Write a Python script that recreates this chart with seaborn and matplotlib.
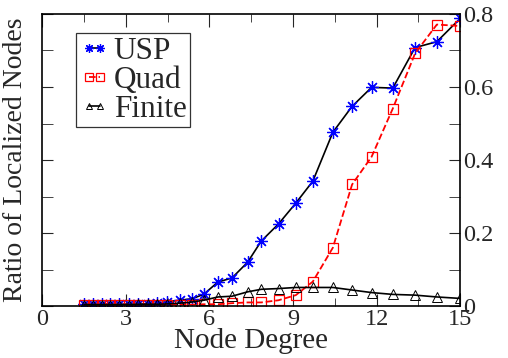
import matplotlib
matplotlib.use("Agg")
import matplotlib.pyplot as plt
from matplotlib.ticker import MultipleLocator, FuncFormatter
import pandas as pd
import seaborn as sns

# node degree (x) and ratio of localized nodes for each method
degree = [1.5, 1.84, 2.14, 2.45, 2.77, 3.12, 3.45, 3.79, 4.13, 4.49, 4.93, 5.37, 5.79,
          6.31, 6.81, 7.37, 7.86, 8.48, 9.10, 9.71, 10.43, 11.12, 11.82, 12.58, 13.38,
          14.16, 15.0]
usp = [0.005, 0.005, 0.005, 0.005, 0.005, 0.005, 0.005, 0.006, 0.008, 0.012, 0.016, 0.020, 0.032,
       0.066, 0.077, 0.120, 0.178, 0.225, 0.282, 0.342, 0.476, 0.547, 0.599, 0.597, 0.708,
       0.724, 0.788]
quad = [0.004, 0.004, 0.004, 0.004, 0.004, 0.004, 0.004, 0.004, 0.004, 0.004, 0.004, 0.004, 0.005,
        0.005, 0.008, 0.010, 0.010, 0.016, 0.030, 0.067, 0.160, 0.333, 0.409, 0.541, 0.692,
        0.771, 0.767]
finite = [0.004, 0.004, 0.004, 0.004, 0.004, 0.004, 0.005, 0.005, 0.005, 0.006, 0.008, 0.011, 0.016,
          0.025, 0.027, 0.039, 0.046, 0.048, 0.051, 0.051, 0.051, 0.044, 0.037, 0.032, 0.030,
          0.025, 0.021]

df = pd.DataFrame({"degree": degree, "USP": usp, "Quad": quad, "Finite": finite})

sns.set_style("white")
plt.rcParams["font.family"] = ["Liberation Serif", "DejaVu Serif"]

fig = plt.figure(figsize=(5.08, 3.58), dpi=100)
ax = fig.add_axes([0.083, 0.145, 0.823, 0.816])

# asterisk marker: 8 spokes
sns.lineplot(data=df, x="degree", y="USP", ax=ax, color="black", linewidth=1.2,
             marker=(8, 2, 0), markersize=9, markeredgecolor="blue", markeredgewidth=0.9,
             label="USP")
sns.lineplot(data=df, x="degree", y="Quad", ax=ax, color="red", linewidth=1.3,
             linestyle="--", dashes=(4.5, 3), marker="s", markersize=7.5,
             markerfacecolor="none", markeredgecolor="red", markeredgewidth=0.9, label="Quad")
sns.lineplot(data=df, x="degree", y="Finite", ax=ax, color="black", linewidth=1.2,
             marker="^", markersize=7, markerfacecolor="none", markeredgecolor="black",
             markeredgewidth=0.7, label="Finite")

ax.set_xlim(0, 15)
ax.set_ylim(0, 0.8)
ax.set_xlabel("Node Degree", fontsize=21, labelpad=-1)
ax.set_ylabel("Ratio of Localized Nodes", fontsize=20, labelpad=10)

ax.xaxis.set_major_locator(MultipleLocator(3))
ax.xaxis.set_minor_locator(MultipleLocator(1.5))
ax.yaxis.set_major_locator(MultipleLocator(0.2))
ax.yaxis.set_minor_locator(MultipleLocator(0.1))
ax.yaxis.set_major_formatter(FuncFormatter(lambda v, p: "0" if v == 0 else f"{v:.1f}"))
ax.yaxis.tick_right()
ax.tick_params(axis="both", which="both", direction="in", top=True, bottom=True,
               left=True, right=True, labelsize=17.5, pad=2)
ax.tick_params(axis="x", which="major", length=9)
ax.tick_params(axis="x", which="minor", length=6)
ax.tick_params(axis="y", which="both", length=8)
ax.yaxis.set_label_position("left")

for s in ax.spines.values():
    s.set_linewidth(1.2)
    s.set_color("black")

leg = ax.legend(loc="upper left", bbox_to_anchor=(0.08, 0.935), fontsize=22.5, numpoints=2,
                markerscale=0.7, handlelength=0.95, handletextpad=0.15, borderpad=0.12,
                labelspacing=0.0, borderaxespad=0.0, frameon=True, fancybox=False)
leg.get_frame().set_edgecolor("black")
leg.get_frame().set_linewidth(0.9)

fig.savefig("out.png", dpi=100)
